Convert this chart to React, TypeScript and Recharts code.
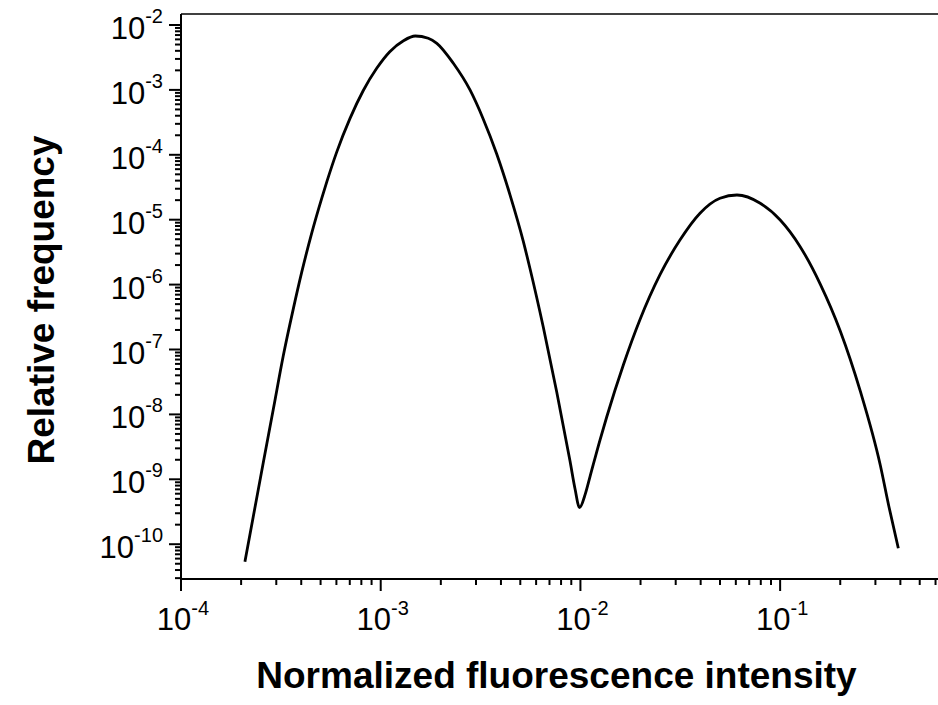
import React from 'react';
import { LineChart, Line, XAxis, YAxis, ReferenceLine } from 'recharts';

// values (log-log plot)
const intensity = [
  2.09e-4, 2.3e-4, 2.58e-4, 2.9e-4, 3.25e-4, 3.65e-4, 4.02e-4, 4.51e-4, 5.07e-4, 5.37e-4,
  6.02e-4, 7.02e-4, 8.18e-4, 9.55e-4, 1.11e-3, 1.3e-3, 1.49e-3, 1.73e-3, 1.91e-3, 2.31e-3,
  2.8e-3, 3.26e-3, 3.81e-3, 4.44e-3, 5.18e-3, 5.59e-3, 6.52e-3, 7.61e-3, 8.87e-3, 9.4e-3,
  9.9e-3, 1.06e-2, 1.117e-2, 1.253e-2, 1.354e-2, 1.64e-2, 1.988e-2, 2.5e-2, 3.15e-2, 3.97e-2,
  5.0e-2, 6.08e-2, 7.95e-2, 0.1001, 0.126, 0.1588, 0.2, 0.2518, 0.3172, 0.3509, 0.3907,
];
const frequency = [
  5.37e-11, 2.65e-10, 1.78e-9, 1.21e-8, 7.94e-8, 4.23e-7, 1.54e-6, 6.15e-6, 2.15e-5, 3.82e-5,
  1.1e-4, 3.64e-4, 9.79e-4, 2.15e-3, 3.88e-3, 5.73e-3, 6.77e-3, 6.24e-3, 5.22e-3, 2.57e-3,
  9.97e-4, 3.57e-4, 1.03e-4, 2.42e-5, 4.6e-6, 1.77e-6, 2.2e-7, 2.21e-8, 1.91e-9, 7.09e-10,
  3.67e-10, 6.08e-10, 1.1e-9, 4.03e-9, 9.12e-9, 5.77e-8, 2.9e-7, 1.41e-6, 4.86e-6, 1.26e-5,
  2.14e-5, 2.4e-5, 1.79e-5, 9.89e-6, 3.84e-6, 1.02e-6, 1.93e-7, 2.3e-8, 1.66e-9, 3.74e-10,
  8.65e-11,
];

const xMajorTicks = [1e-4, 1e-3, 1e-2, 1e-1];
const yMajorTicks = [1e-10, 1e-9, 1e-8, 1e-7, 1e-6, 1e-5, 1e-4, 1e-3, 1e-2];
const minorSteps = [2, 3, 4, 5, 6, 7, 8, 9];

const xDomain: [number, number] = [1e-4, 0.6173];
const yDomain: [number, number] = [2.91e-11, 1.477e-2];

const font = '"Liberation Sans", Arial, sans-serif';

const data = intensity.map((x, i) => ({ x, y: frequency[i] }));

const withMinors = (majors: number[], domain: [number, number]) => {
  const out: number[] = [];
  const decades = [majors[0] / 10, ...majors];
  decades.forEach((d) => {
    out.push(d);
    minorSteps.forEach((m) => out.push(d * m));
  });
  return out.filter((v) => v >= domain[0] * 0.999 && v <= domain[1] * 1.001);
};

const xTicks = withMinors(xMajorTicks, xDomain);
const yTicks = withMinors(yMajorTicks, yDomain);

const isMajor = (v: number) => Math.abs(Math.log10(v) - Math.round(Math.log10(v))) < 1e-6;
const expOf = (v: number) => Math.round(Math.log10(v));

const XTick = (props: any) => {
  const { x, y, payload } = props;
  const major = isMajor(payload.value);
  return (
    <g>
      <line x1={x} x2={x} y1={y} y2={y + (major ? 12 : 6)} stroke="#000" strokeWidth={2} />
      {major && (
        <text x={x + 2} y={y + 51} textAnchor="middle" fontFamily={font} fill="#000">
          <tspan fontSize={31}>10</tspan>
          <tspan fontSize={20} dy={-15}>{expOf(payload.value)}</tspan>
        </text>
      )}
    </g>
  );
};

const YTick = (props: any) => {
  const { x, y, payload } = props;
  const major = isMajor(payload.value);
  return (
    <g>
      <line x1={x - (major ? 12 : 6)} x2={x} y1={y} y2={y} stroke="#000" strokeWidth={2} />
      {major && (
        <text x={x - 18} y={y + 14} textAnchor="end" fontFamily={font} fill="#000">
          <tspan fontSize={31}>10</tspan>
          <tspan fontSize={20} dy={-16}>{expOf(payload.value)}</tspan>
        </text>
      )}
    </g>
  );
};

export default function App() {
  return (
    <div style={{ position: 'absolute', left: 0, top: 0, width: 938, height: 705, background: '#fff', overflow: 'hidden' }}>
      <LineChart width={938} height={705} data={data} margin={{ top: 14, right: 0, bottom: 0, left: 0 }}>
        <XAxis
          dataKey="x"
          type="number"
          scale="log"
          domain={xDomain}
          allowDataOverflow
          ticks={xTicks}
          interval={0}
          tick={<XTick />}
          tickLine={false}
          tickSize={0}
          tickMargin={0}
          height={126}
          axisLine={{ stroke: '#000', strokeWidth: 2 }}
          label={{
            content: (p: any) => (
              <text
                x={p.viewBox.x + p.viewBox.width / 2 - 3}
                y={p.viewBox.y + 109}
                textAnchor="middle"
                fontFamily={font}
                fontWeight="bold"
                fontSize={37}
                fill="#000"
              >
                Normalized fluorescence intensity
              </text>
            ),
          }}
        />
        <YAxis
          type="number"
          scale="log"
          domain={yDomain}
          allowDataOverflow
          ticks={yTicks}
          interval={0}
          tick={<YTick />}
          tickLine={false}
          tickSize={0}
          tickMargin={0}
          width={181}
          axisLine={{ stroke: '#000', strokeWidth: 2 }}
          label={{
            content: () => (
              <text
                x={54}
                y={300}
                transform="rotate(-90, 54, 300)"
                textAnchor="middle"
                fontFamily={font}
                fontWeight="bold"
                fontSize={37}
                fill="#000"
              >
                Relative frequency
              </text>
            ),
          }}
        />
        <ReferenceLine y={yDomain[1]} stroke="#000" strokeWidth={1.5} />
        <Line
          type="monotone"
          dataKey="y"
          stroke="#000"
          strokeWidth={2.8}
          dot={false}
          isAnimationActive={false}
        />
      </LineChart>
    </div>
  );
}
